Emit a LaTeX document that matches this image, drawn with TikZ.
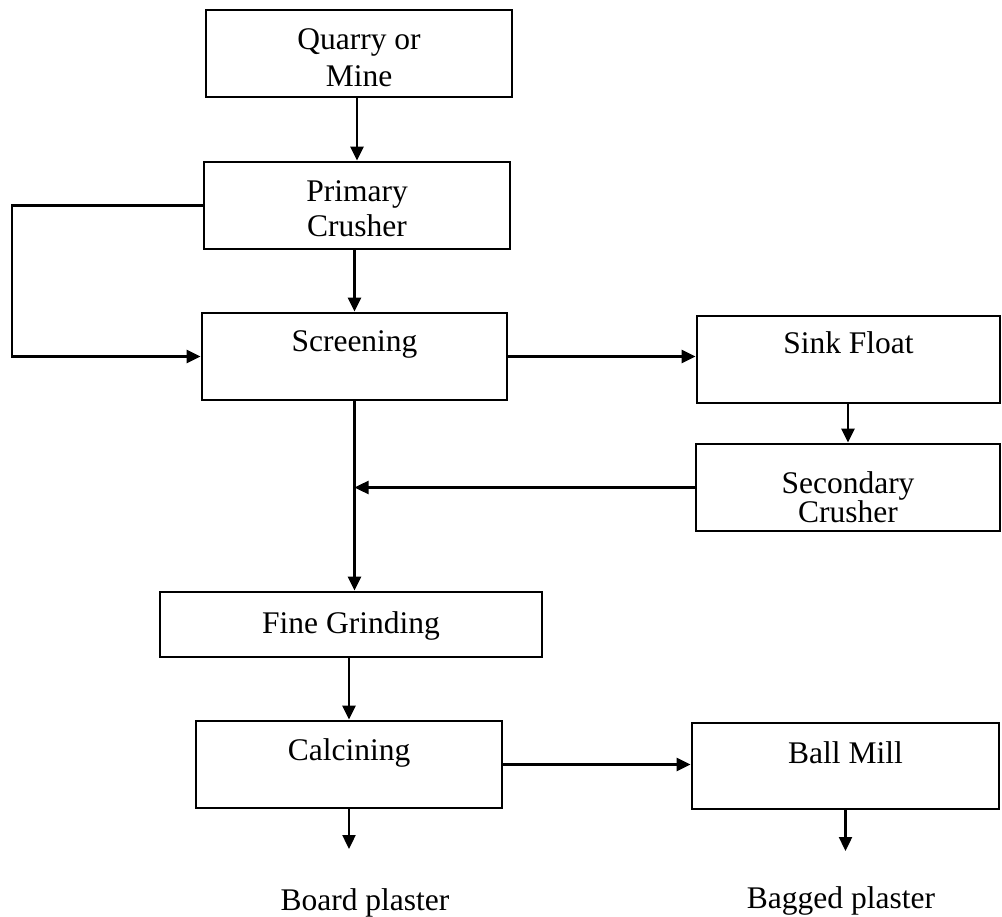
\documentclass[tikz,border=0pt]{standalone}
\usepackage{fontspec}
\setmainfont{Liberation Serif}
\usetikzlibrary{arrows.meta}
\begin{document}
\begin{tikzpicture}[x=1pt,y=-1pt,
  box/.style={draw, line width=2.8pt, rectangle, inner sep=0pt},
  txt/.style={anchor=base, inner sep=0pt, font=\fontsize{31.5}{36}\selectfont},
  arr/.style={line width=2.4pt, -{Triangle[length=14pt,width=13pt]}}]
\useasboundingbox (0,0) rectangle (1002,917);
% boxes
\node[box, minimum width=306, minimum height=87] (quarry) at (359,53.5) {};
\node[box, minimum width=306, minimum height=87] (primary) at (357,205.5) {};
\node[box, minimum width=305, minimum height=87] (scr) at (354.5,356.5) {};
\node[box, minimum width=303, minimum height=87] (sink) at (848.5,359.5) {};
\node[box, minimum width=304, minimum height=87] (sec) at (848,487.5) {};
\node[box, minimum width=382, minimum height=65] (fine) at (351,624.5) {};
\node[box, minimum width=306, minimum height=87] (calc) at (349,764.5) {};
\node[box, minimum width=307, minimum height=86] (ball) at (845.5,766) {};
% texts
\node[txt] (quarryA) at (359,50) {Quarry or};
\node[txt] (quarryB) at (359,87) {Mine};
\node[txt] (primaryA) at (357,202) {Primary};
\node[txt] (primaryB) at (357,237) {Crusher};
\node[txt] (scrT) at (354.5,352) {Screening};
\node[txt] (sinkT) at (848.5,354) {Sink Float};
\node[txt] (secA) at (848,493) {Secondary};
\node[txt] (secB) at (848,522) {Crusher};
\node[txt] (fineT) at (351,633) {Fine Grinding};
\node[txt] (calcT) at (349,760) {Calcining};
\node[txt] (ballT) at (845.5,763) {Ball Mill};
\node[txt] (board) at (365,910) {Board plaster};
\node[txt] (bagged) at (841,908) {Bagged plaster};
% helper coordinates
\coordinate (loopx) at (12,0);
\coordinate (boardEnd) at (349,849);
\coordinate (baggedEnd) at (845.5,851);
% connectors
\draw[arr] (quarry.south -| primary.north) -- (primary.north);
\draw[arr] (primary.south -| scr.north) -- (scr.north);
\draw[arr] (primary.west) -- (primary.west -| loopx) |- (scr.west);
\draw[arr] (scr.east) -- (sink.west |- scr.east);
\draw[arr] (sink.south -| sec.north) -- (sec.north);
\draw[arr] (sec.west) -- (sec.west -| scr.south);
\draw[arr] (scr.south) -- (scr.south |- fine.north);
\draw[arr] (fine.south -| calc.north) -- (calc.north);
\draw[arr] (calc.east) -- (ball.west |- calc.east);
\draw[arr] (calc.south) -- (boardEnd);
\draw[arr] (ball.south) -- (baggedEnd);
\end{tikzpicture}
\end{document}
